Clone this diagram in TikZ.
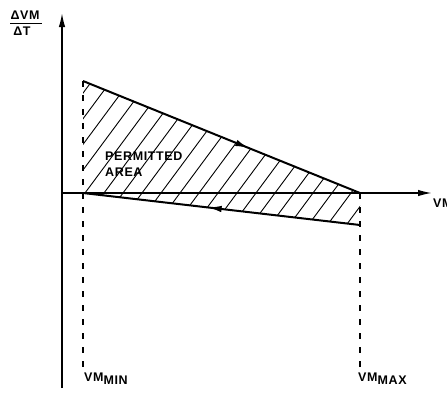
\documentclass[tikz,border=0pt]{standalone}
\usepackage{fontspec}
\setmainfont{Liberation Sans}[LetterSpace=5]
\usetikzlibrary{arrows.meta,decorations.markings}
\begin{document}
\begin{tikzpicture}[x=1pt,y=-1pt,
  axis/.style={line width=1.5pt,-{Latex[length=14pt,width=6.5pt]}},
  bound/.style={line width=2pt},
  guide/.style={line width=1.2pt,dash pattern=on 6pt off 8pt},
  hatch/.style={line width=0.9pt},
  lbl/.style={inner sep=0pt,font=\fontsize{12.5}{13}\selectfont\bfseries},
  midarrow/.style={postaction={decorate},decoration={markings,
     mark=at position #1 with {\arrow{Latex[length=14pt,width=6.5pt]}}}},
  midarrowrev/.style={postaction={decorate},decoration={markings,
     mark=at position #1 with {\arrowreversed{Latex[length=14pt,width=6.5pt]}}}}
]
\useasboundingbox (0,0) rectangle (447,392);
% key points
\coordinate (o) at (62,193);
\coordinate (ytop) at (62,13);
\coordinate (ybot) at (62,388);
\coordinate (xend) at (432,193);
\coordinate (a) at (83,81);
\coordinate (b) at (360,193);
\coordinate (c) at (360,225);
\coordinate (d) at (83,193);
\coordinate (dmin) at (83,370);
\coordinate (dmax) at (360,370);
% hatching
\begin{scope}
  \clip (a) -- (b) -- (c) -- (d) -- cycle;
  \foreach \k in {-200,-181,...,420}
    \draw[hatch] (\k-80,301) -- (\k+120,31);
\end{scope}
% axes
\draw[axis] (ybot) -- (ytop);
\draw[axis] (o) -- (xend);
% guides
\draw[guide] (a) -- (dmin);
\draw[guide] (b) -- (dmax);
% boundaries
\draw[bound,midarrow=0.6] (a) -- (b);
\draw[bound,midarrowrev=0.45] (d) -- (c);
% labels
\node[lbl,anchor=west] (pa) at (105,156) {PERMITTED};
\node[lbl,anchor=west] (ar) at (105,172) {AREA};
\node[lbl,anchor=west] (vm) at (433,203) {VM};
\node[lbl,anchor=south] (num) at (25,20) {ΔVM};
\node[lbl,anchor=north] (den) at (22,27) {ΔT};
\draw[line width=1pt] (10,23) -- (42,23);
\node[lbl,anchor=north west] (vmin) at (84,373) {VM\raisebox{-3pt}{MIN}};
\node[lbl,anchor=north west] (vmax) at (358,373) {VM\raisebox{-3pt}{MAX}};
\end{tikzpicture}
\end{document}
